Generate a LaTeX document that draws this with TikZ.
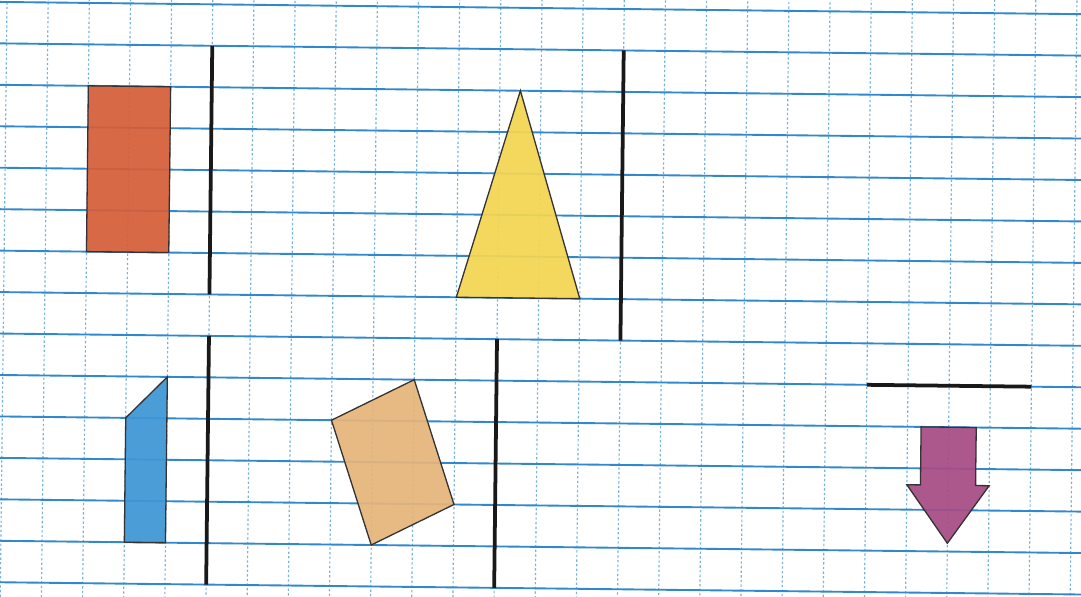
\documentclass[tikz,border=0pt]{standalone}
\usepackage{tikz}

\definecolor{gridblue}{RGB}{48,136,206}
\definecolor{brick}{RGB}{214,94,56}
\definecolor{sun}{RGB}{244,214,82}
\definecolor{sky}{RGB}{62,150,212}
\definecolor{sand}{RGB}{230,180,122}
\definecolor{plum}{RGB}{166,76,132}

\begin{document}
\begin{tikzpicture}[x=0.5cm,y=0.50365cm,
 hline/.style={gridblue,line width=0.65pt},
 vline/.style={gridblue!65,line width=0.4pt,dash pattern=on 0.8pt off 0.8pt},
 wall/.style={black!90,line width=1.3pt},
 piece/.style={draw=black!80,line width=0.45pt,fill opacity=0.93}]
\clip (-0.1701,0.04825) rectangle (26.099,-14.3305);
\fill[white] (-0.1701,0.04825) rectangle (26.099,-14.3305);
\begin{scope}[rotate=-0.65]
\foreach \col in {-1,...,27}
  \draw[vline] (\col,1) -- (\col,-15);
\foreach \row in {-1,...,15}
  \draw[hline] (-2,-\row) -- (28,-\row);
\filldraw[piece,fill=brick] (2,-2) rectangle (4,-6);
\filldraw[piece,fill=sun] (11,-7) -- (14,-7) -- (12.5,-2) -- cycle;
\filldraw[piece,fill=sky] (3,-13) -- (4,-13) -- (4,-9) -- (3,-10) -- cycle;
\filldraw[piece,fill=sand] (8,-10) -- (10,-9) -- (11,-12) -- (9,-13) -- cycle;
\filldraw[piece,fill=plum] (22.33,-10) -- (23.67,-10) -- (23.67,-11.4) -- (24,-11.4)
  -- (23,-12.8) -- (22,-11.4) -- (22.33,-11.4) -- cycle;
\draw[wall] (5,-1) -- (5,-7);
\draw[wall] (15,-1) -- (15,-8);
\draw[wall] (5,-8) -- (5,-14);
\draw[wall] (12,-8) -- (12,-14);
\draw[wall] (21,-9) -- (25,-9);
\end{scope}
\end{tikzpicture}
\end{document}
